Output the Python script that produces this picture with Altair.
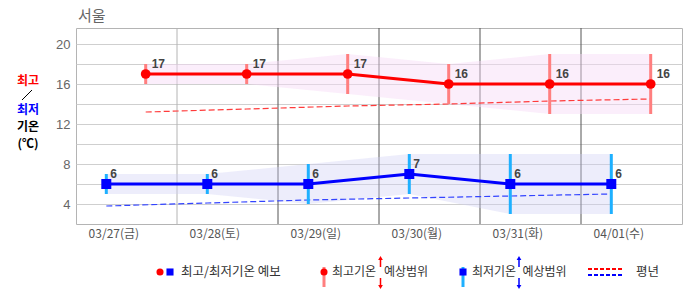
import altair as alt
import pandas as pd

# ---- data ----
dates = ["03/27(금)", "03/28(토)", "03/29(일)", "03/30(월)", "03/31(화)", "04/01(수)"]
tmax = [17, 17, 17, 16, 16, 16]
tmax_lo = [16, 16, 15, 14, 13, 13]
tmax_hi = [18, 18, 19, 18, 19, 19]
tmin = [6, 6, 6, 7, 6, 6]
tmin_lo = [5, 5, 4, 5, 3, 3]
tmin_hi = [7, 7, 8, 9, 9, 9]
norm_max = [13.2, 13.5, 13.8, 14.0, 14.3, 14.5]
norm_min = [3.8, 4.1, 4.4, 4.6, 4.8, 5.0]
light_day_lines = [1]
dark_day_lines = [2, 3, 4, 5]
y_grid = [4, 6, 8, 10, 12, 14, 16, 18, 20]
MIN_TIME = 0.3    # time of day (fraction) of the min-temp observation
MAX_TIME = 0.69   # time of day (fraction) of the max-temp observation
LABEL_TIME = 0.37

title_text = "서울"
legend_texts = ["최고/최저기온 예보", "최고기온", "예상범위", "최저기온", "예상범위", "평년"]

FONT = "Noto Sans CJK KR"

df_max = pd.DataFrame({"x": [i + MAX_TIME for i in range(len(dates))],
                       "t": tmax, "lo": tmax_lo, "hi": tmax_hi, "n": norm_max})
df_min = pd.DataFrame({"x": [i + MIN_TIME for i in range(len(dates))],
                       "t": tmin, "lo": tmin_lo, "hi": tmin_hi, "n": norm_min})

label_vals = [i + LABEL_TIME for i in range(len(dates))]
label_expr = "[" + ",".join("'%s'" % d for d in dates) + "][round(datum.value - %s)]" % LABEL_TIME

xscale = alt.Scale(domain=[0, 6], nice=False, zero=False)
yscale = alt.Scale(domain=[2, 21.6], nice=False, zero=False)
xaxis = alt.Axis(values=label_vals, labelExpr=label_expr, grid=False, ticks=False, domain=False,
                 title=None, labelColor="#555", labelFontSize=12, labelFont=FONT, labelPadding=4)
yaxis = alt.Axis(values=y_grid, labelExpr="datum.value % 4 == 0 ? datum.label : ''", grid=True,
                 gridColor="#cfcfcf", ticks=False, domain=False, title=None, labelColor="#666",
                 labelFontSize=13, labelFont="Liberation Sans", labelPadding=6)


def X(f):
    return alt.X(f, type="quantitative", scale=xscale, axis=xaxis)


def Y(f):
    return alt.Y(f, type="quantitative", scale=yscale, axis=yaxis)


one = pd.DataFrame({"k": [0]})

light_rules = alt.Chart(pd.DataFrame({"d": light_day_lines})).mark_rule(color="#b4b4b4", strokeWidth=1).encode(x=X("d"))
dark_rules = alt.Chart(pd.DataFrame({"d": dark_day_lines})).mark_rule(color="#555555", strokeWidth=1).encode(x=X("d"))

band_max = alt.Chart(df_max).mark_area(color="#f7d9f7", opacity=0.45).encode(x=X("x"), y=Y("lo"), y2="hi")
band_min = alt.Chart(df_min).mark_area(color="#d0d0f5", opacity=0.38).encode(x=X("x"), y=Y("lo"), y2="hi")

norm_max_line = alt.Chart(df_max).mark_line(color="#ff3b3b", strokeWidth=1.2, strokeDash=[6, 3]).encode(x=X("x"), y=Y("n"))
norm_min_line = alt.Chart(df_min).mark_line(color="#3344ff", strokeWidth=1.2, strokeDash=[6, 3]).encode(x=X("x"), y=Y("n"))

range_max = alt.Chart(df_max).mark_rule(color="#ff7f7f", strokeWidth=3).encode(x=X("x"), y=Y("lo"), y2="hi")
range_min = alt.Chart(df_min).mark_rule(color="#1eb0ff", strokeWidth=3).encode(x=X("x"), y=Y("lo"), y2="hi")

line_max = alt.Chart(df_max).mark_line(color="#ff0000", strokeWidth=3).encode(x=X("x"), y=Y("t"))
line_min = alt.Chart(df_min).mark_line(color="#0000ff", strokeWidth=3).encode(x=X("x"), y=Y("t"))

pts_max = alt.Chart(df_max).mark_point(filled=True, shape="circle", size=95, color="#ff0000", opacity=1).encode(x=X("x"), y=Y("t"))
pts_min = alt.Chart(df_min).mark_point(filled=True, shape="square", size=100, color="#0000ff", opacity=1).encode(x=X("x"), y=Y("t"))

lab_max = alt.Chart(df_max).mark_text(align="left", baseline="alphabetic", dx=6, dy=-6, fontWeight="bold",
                                      fontSize=12, color="#444", font="Liberation Sans").encode(x=X("x"), y=Y("t"), text="t:Q")
lab_min = alt.Chart(df_min).mark_text(align="left", baseline="alphabetic", dx=4, dy=-6, fontWeight="bold",
                                      fontSize=12, color="#444", font="Liberation Sans").encode(x=X("x"), y=Y("t"), text="t:Q")

# ---- title and left axis caption ----
title = alt.Chart(pd.DataFrame({"s": [title_text]})).mark_text(
    align="left", baseline="middle", fontSize=15, color="#666", font=FONT
).encode(text="s:N", x=alt.value(2), y=alt.value(-12))


def cap(s, color, yv):
    return alt.Chart(pd.DataFrame({"s": [s]})).mark_text(
        align="center", baseline="middle", fontSize=12, fontWeight="bold", color=color, font=FONT
    ).encode(text="s:N", x=alt.value(-48), y=alt.value(yv))


cap1 = cap("최고", "#ff0000", 53)
cap2 = cap("최저", "#0000ff", 82)
cap3 = cap("기온", "#000000", 99)
cap4 = cap("(℃)", "#000000", 116)
slash = alt.Chart(one).mark_rule(color="#000", strokeWidth=1).encode(
    x=alt.value(-44), x2=alt.value(-54), y=alt.value(62), y2=alt.value(72))

# ---- legend ----
LY = 244


def ltext(s, xv, fs=12):
    return alt.Chart(pd.DataFrame({"s": [s]})).mark_text(
        align="left", baseline="middle", fontSize=fs, color="#333", font=FONT
    ).encode(text="s:N", x=alt.value(xv), y=alt.value(LY))


def lpoint(shape, color, size, xv):
    return alt.Chart(one).mark_point(filled=True, shape=shape, size=size, color=color, opacity=1).encode(
        x=alt.value(xv), y=alt.value(LY))


def lbar(color, xv):
    return alt.Chart(one).mark_rule(color=color, strokeWidth=3).encode(
        x=alt.value(xv), y=alt.value(LY - 5), y2=alt.value(LY + 15))


def larrow(color, xv):
    up_stem = alt.Chart(one).mark_rule(color=color, strokeWidth=1.5).encode(
        x=alt.value(xv), y=alt.value(LY - 14), y2=alt.value(LY - 5))
    up_head = alt.Chart(one).mark_point(filled=True, shape="triangle-up", size=22, color=color, opacity=1).encode(
        x=alt.value(xv), y=alt.value(LY - 14))
    dn_stem = alt.Chart(one).mark_rule(color=color, strokeWidth=1.5).encode(
        x=alt.value(xv), y=alt.value(LY + 6), y2=alt.value(LY + 15))
    dn_head = alt.Chart(one).mark_point(filled=True, shape="triangle-down", size=22, color=color, opacity=1).encode(
        x=alt.value(xv), y=alt.value(LY + 15))
    return [up_stem, up_head, dn_stem, dn_head]


def ldash(color, yv):
    return alt.Chart(one).mark_rule(color=color, strokeWidth=2, strokeDash=[4, 2]).encode(
        x=alt.value(512), x2=alt.value(548), y=alt.value(yv))


legend = [
    lpoint("circle", "#ff0000", 50, 84), lpoint("square", "#0000ff", 50, 94), ltext(legend_texts[0], 105, 12.5),
    lbar("#ff7f7f", 248), lpoint("circle", "#ff0000", 50, 248), ltext(legend_texts[1], 256),
    *larrow("#ff0000", 304.5), ltext(legend_texts[2], 308),
    lbar("#1eb0ff", 387), lpoint("square", "#0000ff", 50, 387), ltext(legend_texts[3], 396),
    *larrow("#0000ff", 443), ltext(legend_texts[4], 446.5),
    ldash("#ff0000", 241), ldash("#0000ff", 247), ltext(legend_texts[5], 560, 12.5),
]

chart = alt.layer(
    light_rules, dark_rules,
    band_max, band_min,
    norm_max_line, norm_min_line,
    range_max, range_min,
    line_max, line_min,
    pts_max, pts_min,
    lab_max, lab_min,
    title, cap1, cap2, cap3, cap4, slash,
    *legend,
).properties(
    width=606, height=196,
    autosize=alt.AutoSizeParams(type="none"),
    padding={"left": 76, "top": 28, "right": 4, "bottom": 71},
    background="white",
).configure_view(stroke="#b4b4b4", strokeWidth=1)

chart.save("out.html", embed_options={"renderer": "svg", "actions": False})
